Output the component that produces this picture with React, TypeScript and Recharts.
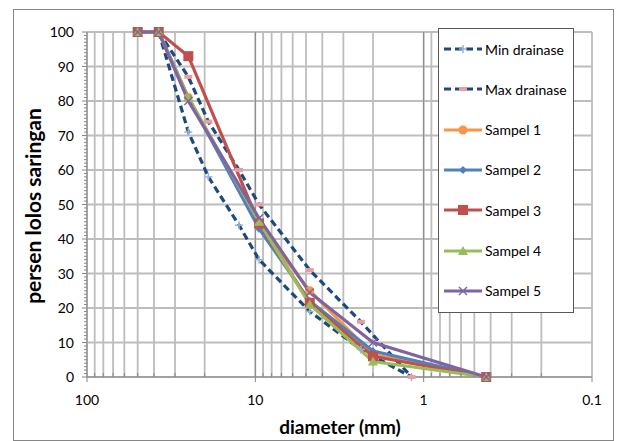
import React from 'react';
import { LineChart, Line, XAxis, YAxis, CartesianGrid, ReferenceLine, Label } from 'recharts';

// ---------- data ----------
const minSizes = [37.5, 25, 19, 12.5, 9.5, 4.75, 2.36, 1.18];
const minPass = [100, 71, 58, 44, 34, 19, 8, 0];
const maxSizes = [37.5, 25, 19, 12.5, 9.5, 4.75, 2.36, 1.18];
const maxPass = [100, 87, 74, 60, 50, 31, 16, 0];
const sampleSizes = [50, 37.5, 25, 9.5, 4.75, 2.0, 0.425];
const sampel1 = [100, 100, 81, 44, 25, 6.5, 0];
const sampel2 = [100, 100, 81, 43, 22, 7.5, 0];
const sampel3 = [100, 100, 93, 44.5, 21.5, 6, 0];
const sampel4 = [100, 100, 81, 45, 21, 4.5, 0];
const sampel5 = [100, 100, 80, 46, 24.5, 10, 0];

const xTicks = [100, 90, 80, 70, 60, 50, 40, 30, 20, 10, 9, 8, 7, 6, 5, 4, 3, 2, 1, 0.9, 0.8, 0.7, 0.6, 0.5, 0.4, 0.3, 0.2, 0.1];
const xMajor = [100, 10, 1, 0.1];
const xMajorLabels = ['100', '10', '1', '0.1'];
const yMajor = [0, 10, 20, 30, 40, 50, 60, 70, 80, 90, 100];
const yTicks: number[] = [];
for (let i = 0; i <= 100; i++) yTicks.push(i);

const seriesNames = ['Min drainase', 'Max drainase', 'Sampel 1', 'Sampel 2', 'Sampel 3', 'Sampel 4', 'Sampel 5'];
const seriesColors = ['#1f497d', '#1f497d', '#f79646', '#4f81bd', '#c0504d', '#9bbb59', '#8064a2'];

const toPts = (xs: number[], ys: number[]) => xs.map((d, i) => ({ d, p: ys[i] }));

const FONT = 'Lato, "Open Sans", sans-serif';

// ---------- markers ----------
const markerFor = (idx: number, cx: number, cy: number, key?: any) => {
  const c = seriesColors[idx];
  switch (idx) {
    case 0:
      return (
        <g key={key}>
          <line x1={cx - 4} x2={cx + 4} y1={cy} y2={cy} stroke="#95b3d7" strokeWidth={1.5} />
          <line x1={cx} x2={cx} y1={cy - 4} y2={cy + 4} stroke="#95b3d7" strokeWidth={1.5} />
        </g>
      );
    case 1:
      return <rect key={key} x={cx - 4} y={cy - 2} width={8} height={4} fill="#e6a0a0" />;
    case 2:
      return <circle key={key} cx={cx} cy={cy} r={4.5} fill={c} />;
    case 3:
      return <path key={key} d={`M${cx},${cy - 4}L${cx + 4},${cy}L${cx},${cy + 4}L${cx - 4},${cy}Z`} fill={c} />;
    case 4:
      return <rect key={key} x={cx - 5} y={cy - 5} width={10} height={10} fill={c} />;
    case 5:
      return <path key={key} d={`M${cx},${cy - 5}L${cx + 5},${cy + 4}L${cx - 5},${cy + 4}Z`} fill={c} />;
    default:
      return (
        <g key={key}>
          <line x1={cx - 4} x2={cx + 4} y1={cy - 4} y2={cy + 4} stroke={c} strokeWidth={1.5} />
          <line x1={cx - 4} x2={cx + 4} y1={cy + 4} y2={cy - 4} stroke={c} strokeWidth={1.5} />
        </g>
      );
  }
};

const makeDot = (idx: number) => (props: any) => {
  const { cx, cy, index } = props;
  if (cx == null || cy == null) return <g key={index} />;
  return markerFor(idx, cx, cy, index);
};

// ---------- ticks ----------
const YTick = (props: any) => {
  const { x, y, payload } = props;
  const v = payload.value;
  const major = v % 10 === 0;
  return (
    <g>
      <line x1={x - (major ? 5 : 3)} x2={x} y1={y} y2={y} stroke="#868686" strokeWidth={1} />
      {major && (
        <text x={x - 13} y={y} dy="0.36em" textAnchor="end" fontFamily={FONT} fontSize={14} fill="#000">
          {v}
        </text>
      )}
    </g>
  );
};

const XTick = (props: any) => {
  const { x, y, payload } = props;
  const v = payload.value;
  const mi = xMajor.indexOf(v);
  return (
    <g>
      {mi >= 0 ? (
        <line x1={x} x2={x} y1={y} y2={y + 5} stroke="#868686" strokeWidth={1} />
      ) : (
        <line x1={x} x2={x} y1={y - 4} y2={y} stroke="#868686" strokeWidth={1} />
      )}
      {mi >= 0 && (
        <text x={x} y={y + 28} textAnchor="middle" fontFamily={FONT} fontSize={14} fill="#000">
          {xMajorLabels[mi]}
        </text>
      )}
    </g>
  );
};

// ---------- legend ----------
const LegendBox = () => (
  <div
    style={{
      position: 'absolute',
      left: 438,
      top: 28,
      width: 134,
      height: 283,
      background: '#fff',
      border: '1px solid #595959',
      fontFamily: FONT,
      fontSize: 14,
    }}
  >
    {seriesNames.map((n, i) => (
      <div key={n} style={{ position: 'absolute', left: 0, top: 20 + i * 40.3 - 10, height: 20, display: 'flex', alignItems: 'center' }}>
        <svg width={46} height={20} style={{ display: 'block' }}>
          <line
            x1={5}
            x2={43}
            y1={10}
            y2={10}
            stroke={seriesColors[i]}
            strokeWidth={3}
            strokeDasharray={i < 2 ? '7 4' : undefined}
          />
          {markerFor(i, 24, 10)}
        </svg>
        <span style={{ whiteSpace: 'nowrap', color: '#000' }}>{n}</span>
      </div>
    ))}
  </div>
);

export default function App() {
  const lineW = 3.2;
  return (
    <div style={{ position: 'absolute', left: 0, top: 0, width: 619, height: 441, background: '#fff' }}>
      <div style={{ position: 'absolute', left: 13, top: 9, width: 599, height: 430, border: '1px solid #868686' }} />
      <div style={{ position: 'absolute', left: 0, top: 0 }}>
        <LineChart width={619} height={441} margin={{ top: 32, right: 27, bottom: 34, left: 27 }}>
          <CartesianGrid
            horizontalValues={yMajor}
            verticalValues={xTicks}
            stroke="#bdbdbd"
            strokeWidth={1.8}
          />
          <XAxis
            type="number"
            dataKey="d"
            scale="log"
            domain={[0.1, 100]}
            reversed
            allowDataOverflow
            ticks={xTicks}
            interval={0}
            tick={<XTick />}
            tickLine={false}
            tickSize={0}
            tickMargin={0}
            height={30}
            axisLine={{ stroke: '#868686' }}
          >
            <Label
              content={() => (
                <text x={340} y={434} textAnchor="middle" fontFamily={FONT} fontWeight="bold" fontSize={19} fill="#000">
                  diameter (mm)
                </text>
              )}
            />
          </XAxis>
          <YAxis
            type="number"
            dataKey="p"
            domain={[0, 100]}
            ticks={yTicks}
            interval={0}
            tick={<YTick />}
            tickLine={false}
            tickSize={0}
            tickMargin={0}
            width={60}
            axisLine={{ stroke: '#868686' }}
          >
            <Label
              content={() => (
                <text
                  x={36}
                  y={206}
                  transform="rotate(-90 36 206)"
                  dominantBaseline="middle"
                  textAnchor="middle"
                  fontFamily={FONT}
                  fontWeight="bold"
                  fontSize={21}
                  fill="#000"
                >
                  persen lolos saringan
                </text>
              )}
            />
          </YAxis>
          <ReferenceLine x={10} stroke="#868686" strokeWidth={1} />
          <ReferenceLine x={1} stroke="#868686" strokeWidth={1} />
          <Line data={toPts(minSizes, minPass)} dataKey="p" name={seriesNames[0]} stroke={seriesColors[0]} strokeWidth={lineW} strokeDasharray="7 4" dot={makeDot(0)} isAnimationActive={false} />
          <Line data={toPts(maxSizes, maxPass)} dataKey="p" name={seriesNames[1]} stroke={seriesColors[1]} strokeWidth={lineW} strokeDasharray="7 4" dot={makeDot(1)} isAnimationActive={false} />
          <Line data={toPts(sampleSizes, sampel1)} dataKey="p" name={seriesNames[2]} stroke={seriesColors[2]} strokeWidth={lineW} dot={makeDot(2)} isAnimationActive={false} />
          <Line data={toPts(sampleSizes, sampel2)} dataKey="p" name={seriesNames[3]} stroke={seriesColors[3]} strokeWidth={lineW} dot={makeDot(3)} isAnimationActive={false} />
          <Line data={toPts(sampleSizes, sampel3)} dataKey="p" name={seriesNames[4]} stroke={seriesColors[4]} strokeWidth={lineW} dot={makeDot(4)} isAnimationActive={false} />
          <Line data={toPts(sampleSizes, sampel4)} dataKey="p" name={seriesNames[5]} stroke={seriesColors[5]} strokeWidth={lineW} dot={makeDot(5)} isAnimationActive={false} />
          <Line data={toPts(sampleSizes, sampel5)} dataKey="p" name={seriesNames[6]} stroke={seriesColors[6]} strokeWidth={lineW} dot={makeDot(6)} isAnimationActive={false} />
        </LineChart>
      </div>
      <LegendBox />
    </div>
  );
}
